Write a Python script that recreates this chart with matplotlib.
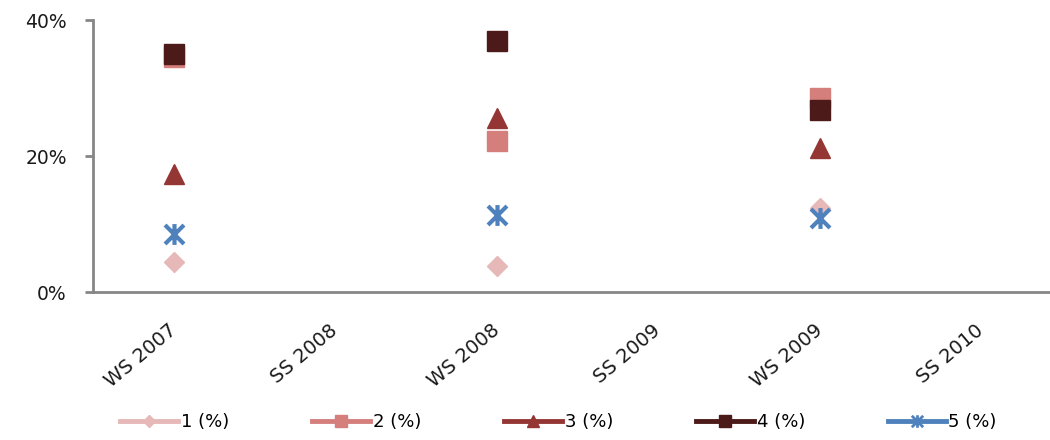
import matplotlib.pyplot as plt
from matplotlib.path import Path
from matplotlib.ticker import PercentFormatter

semesters = ['WS 2007', 'SS 2008', 'WS 2008', 'SS 2009', 'WS 2009', 'SS 2010']
series_names = ['1 (%)', '2 (%)', '3 (%)', '4 (%)', '5 (%)']

# values per semester (None = no data)
s1 = [4.4, None, 3.8, None, 12.4, None]
s2 = [34.6, None, 22.2, None, 28.6, None]
s3 = [17.4, None, 25.6, None, 21.2, None]
s4 = [35.0, None, 37.0, None, 26.8, None]
s5 = [8.5, None, 11.3, None, 10.9, None]

colors = ['#E6B9B8', '#D47F7C', '#943634', '#4B1A19', '#4F81BD']

# excel-style asterisk: x with a vertical stroke
asterisk = Path([(-1, -1), (1, 1), (-1, 1), (1, -1), (0, -1.1), (0, 1.1)],
                [Path.MOVETO, Path.LINETO, Path.MOVETO, Path.LINETO,
                 Path.MOVETO, Path.LINETO])

styles = [
    dict(marker='D', markersize=10.5),
    dict(marker='s', markersize=14),
    dict(marker='^', markersize=15),
    dict(marker='s', markersize=14),
    dict(marker=asterisk, markersize=15, markeredgewidth=3, fillstyle='none'),
]


def main():
    fig = plt.figure(figsize=(10.5, 4.4), dpi=100)
    ax = fig.add_axes([0.0886, 0.336, 0.923, 0.618])

    x = list(range(len(semesters)))
    data = [s1, s2, s3, s4, s5]
    handles = []
    for vals, name, col, st in zip(data, series_names, colors, styles):
        xs = [i for i, v in zip(x, vals) if v is not None]
        ys = [v for v in vals if v is not None]
        ax.plot(xs, ys, linestyle='none', color=col, markeredgecolor=col,
                markerfacecolor=col, **st)
        # legend handle: thick line with small marker
        st_leg = dict(st)
        st_leg['markersize'] = st['markersize'] * 0.6
        if 'markeredgewidth' in st_leg:
            st_leg['markeredgewidth'] = 2
        h, = ax.plot([], [], color=col, linewidth=3.5, markeredgecolor=col,
                     markerfacecolor=col, label=name, **st_leg)
        handles.append(h)

    ax.set_xlim(-0.5, len(semesters) - 0.5)
    ax.set_ylim(0, 40)
    ax.set_yticks([0, 20, 40])
    ax.yaxis.set_major_formatter(PercentFormatter(decimals=0))
    ax.set_xticks(x)
    ax.set_xticklabels(semesters, rotation=40, ha='right', va='center',
                       rotation_mode='anchor', fontsize=14)

    for side in ['top', 'right']:
        ax.spines[side].set_visible(False)
    for side in ['left', 'bottom']:
        ax.spines[side].set_color('#868686')
        ax.spines[side].set_linewidth(2)

    ax.tick_params(axis='y', length=6, width=2, color='#868686',
                   labelsize=13.5, pad=13, labelcolor='#1a1a1a')
    ax.tick_params(axis='x', length=0, pad=26, labelcolor='#1a1a1a')

    fig.legend(handles=handles, loc='center', bbox_to_anchor=(0.532, 0.041),
               ncol=5, frameon=False, fontsize=13, handlelength=3.2,
               handletextpad=0.15, columnspacing=4.6)

    fig.savefig('out.png', dpi=100)


if __name__ == "__main__":
    main()
